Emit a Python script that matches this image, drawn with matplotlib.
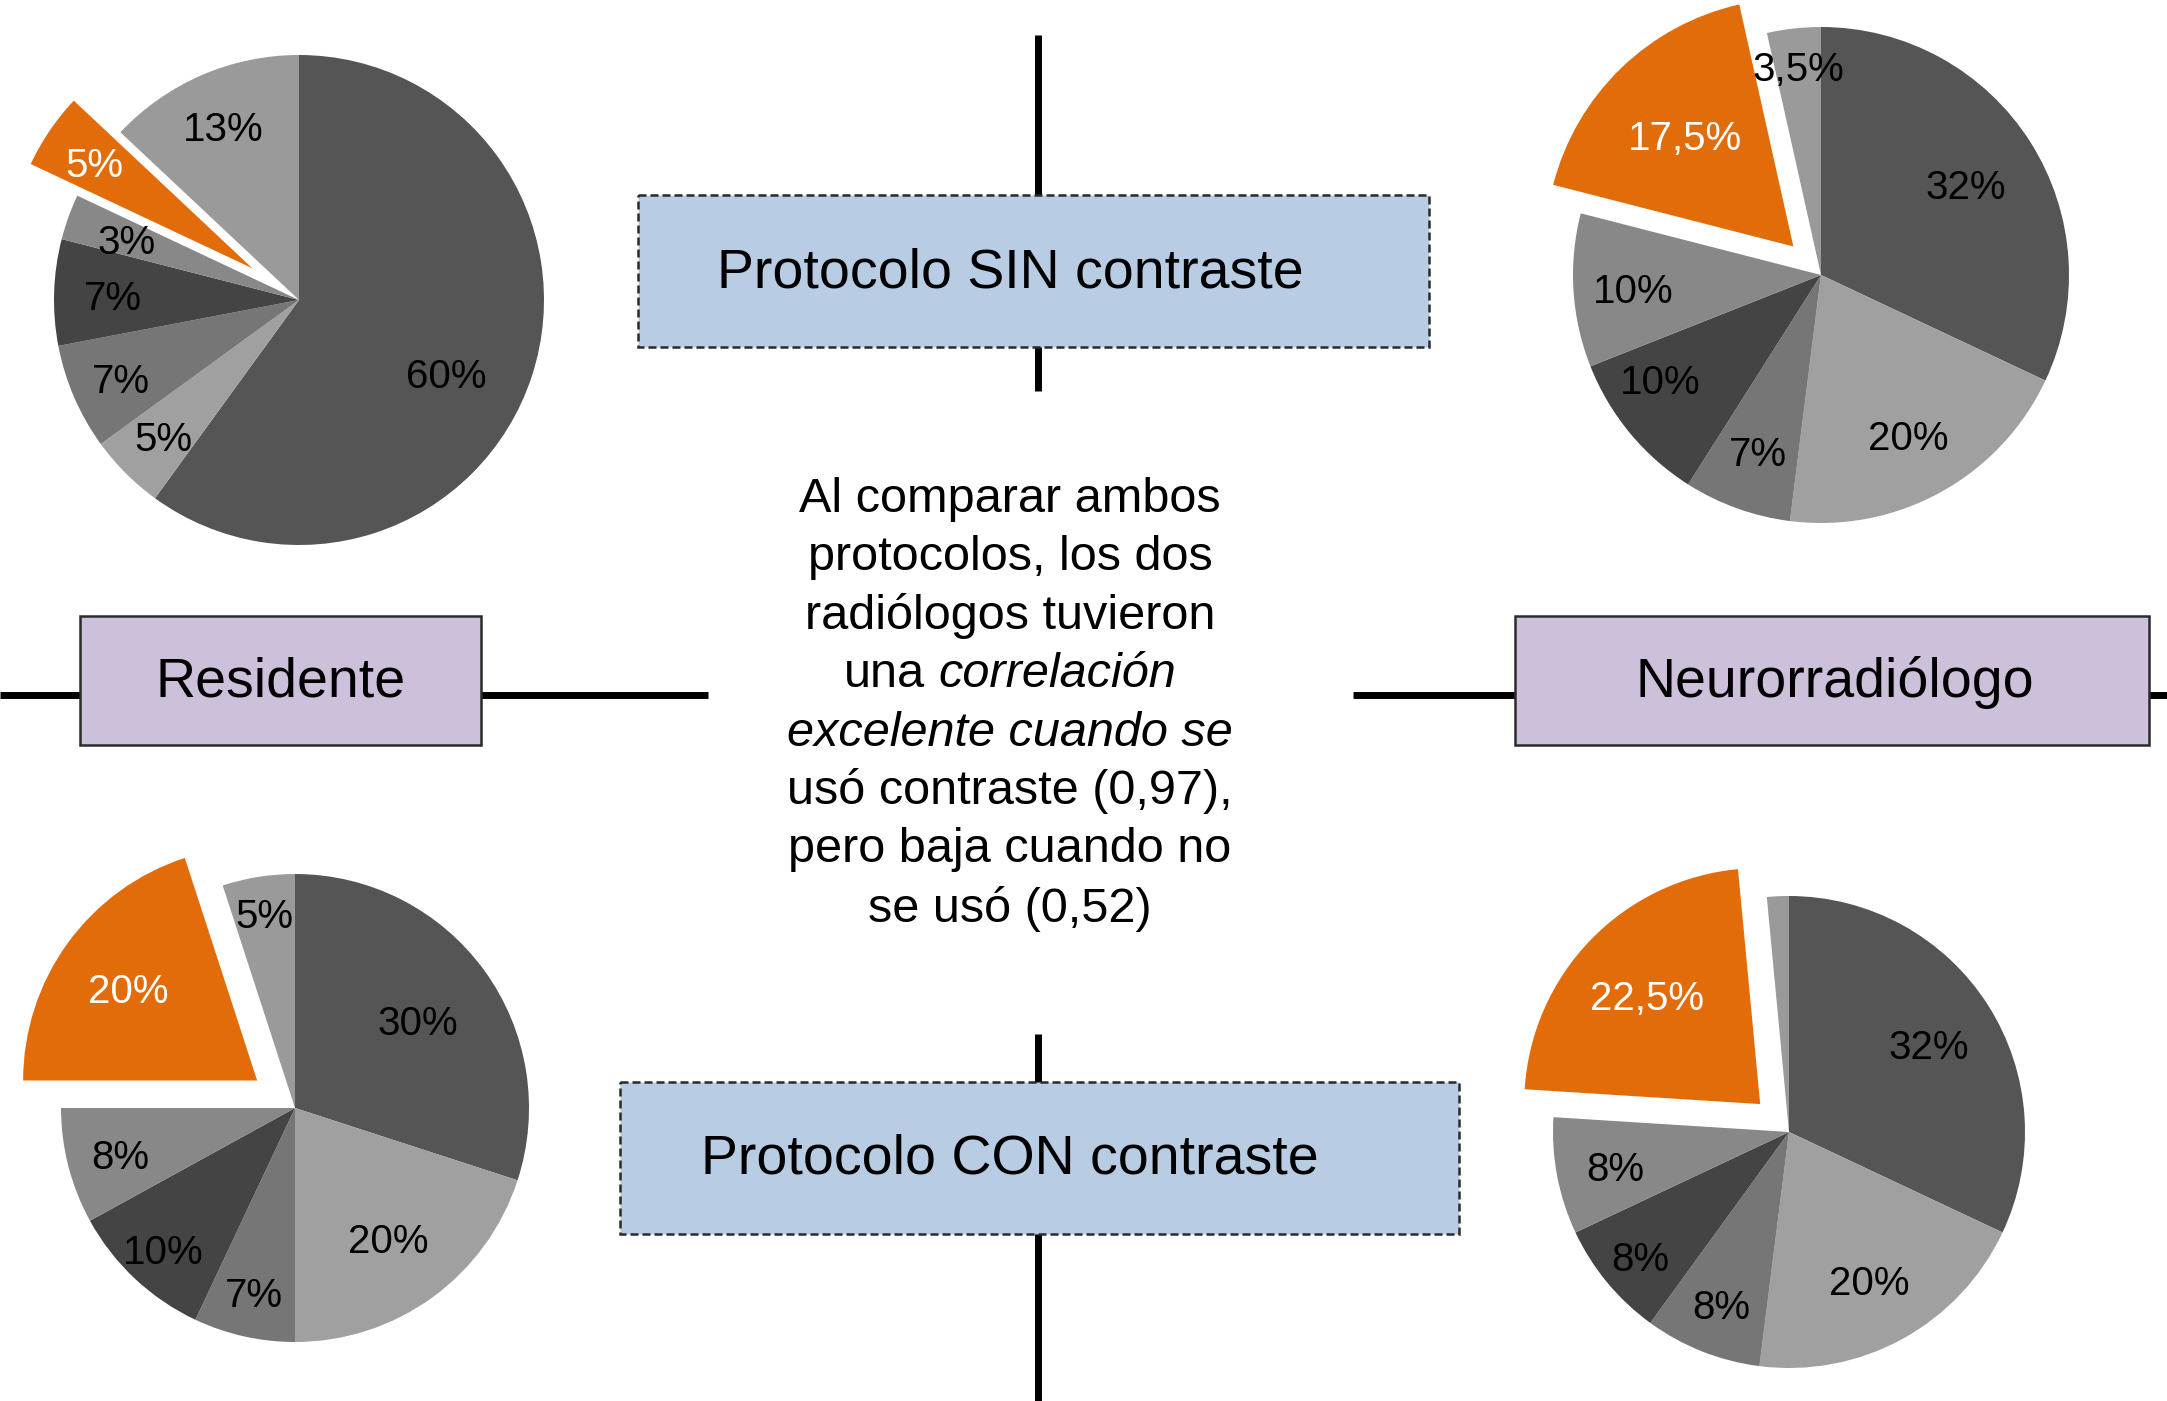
import matplotlib
matplotlib.use("Agg")
import matplotlib.pyplot as plt
from matplotlib.patches import Rectangle
from matplotlib.transforms import offset_copy
import numpy as np

W, H, DPI = 2167, 1401, 100
plt.rcParams['font.family'] = ['Liberation Sans', 'DejaVu Sans']

# ---- data (clockwise from 12 o'clock) ----
res_sin_vals = [60, 5, 7, 7, 3, 5, 13]
res_sin_labels = ['60%', '5%', '7%', '7%', '3%', '5%', '13%']
neu_sin_vals = [32, 20, 7, 10, 10, 17.5, 3.5]
neu_sin_labels = ['32%', '20%', '7%', '10%', '10%', '17,5%', '3,5%']
res_con_vals = [30, 20, 7, 10, 8, 20, 5]
res_con_labels = ['30%', '20%', '7%', '10%', '8%', '20%', '5%']
neu_con_vals = [32, 20, 8, 8, 8, 22.5, 1.5]
neu_con_labels = ['32%', '20%', '8%', '8%', '8%', '22,5%', '']

slice_colors = ['#555555', '#a0a0a0', '#767676', '#444444', '#888888', '#e36c0a', '#9a9a9a']
highlight = 5  # orange, exploded slice

fig = plt.figure(figsize=(W / DPI, H / DPI), dpi=DPI)

# background axes in pixel coordinates (y down)
bg = fig.add_axes([0, 0, 1, 1])
bg.set_xlim(0, W)
bg.set_ylim(H, 0)
bg.axis('off')

line_kw = dict(color='black', lw=5, solid_capstyle='butt', zorder=1)
# vertical connector
bg.plot([1038, 1038], [35, 391], **line_kw)
bg.plot([1038, 1038], [1034, H], **line_kw)
# horizontal connectors
bg.plot([0, 708], [695, 695], **line_kw)
bg.plot([1353, W], [695, 695], **line_kw)


def box(x0, y0, x1, y1, fc, text, tx, dashed):
    r = Rectangle((x0, y0), x1 - x0, y1 - y0, facecolor=fc, edgecolor='#2a2a2a',
                  lw=1.8, linestyle=(0, (3.2, 1.6)) if dashed else '-', zorder=2)
    bg.add_patch(r)
    bg.text(tx, (y0 + y1) / 2 + 2, text, ha='center', va='center',
            fontsize=40, color='black', zorder=3)


box(638, 195, 1429, 347, '#b8cce4', 'Protocolo SIN contraste', 1010, True)
box(620, 1082, 1459, 1234, '#b8cce4', 'Protocolo CON contraste', 1010, True)
box(80, 616, 481, 745, '#ccc0da', 'Residente', 281, False)
box(1515, 616, 2149, 745, '#ccc0da', 'Neurorradiólogo', 1835, False)

# central text, line by line (some words italic)
center_lines = [
    [("Al comparar ambos", 'normal')],
    [("protocolos, los dos", 'normal')],
    [("radiólogos tuvieron", 'normal')],
    [("una", 'normal'), ("correlación", 'italic')],
    [("excelente cuando se", 'italic')],
    [("usó contraste (0,97),", 'normal')],
    [("pero baja cuando no", 'normal')],
    [("se usó (0,52)", 'normal')],
]
renderer = fig.canvas.get_renderer()
fs_c = 35
cx_text, y_first, dy = 1010, 499, 58.5


def text_w(s, style):
    t = bg.text(0, 0, s, fontsize=fs_c, style=style)
    w = t.get_window_extent(renderer=renderer).width
    t.remove()
    return w


space_w = text_w("n n", 'normal') - text_w("nn", 'normal')
for i, parts in enumerate(center_lines):
    y = y_first + i * dy
    widths = [text_w(s, st) for s, st in parts]
    total = sum(widths) + space_w * (len(parts) - 1)
    x = cx_text - total / 2
    for (s, st), w in zip(parts, widths):
        bg.text(x, y, s, fontsize=fs_c, style=st, ha='left', va='center', color='black')
        x += w + space_w


def draw_pie(cx, cy, r, vals, labels, explode_amt, label_dist, label_rot, fs=29):
    L = 1.4
    ax = fig.add_axes([(cx - L * r) / W, (H - cy - L * r) / H,
                       2 * L * r / W, 2 * L * r / H])
    explode = [explode_amt if i == highlight else 0 for i in range(len(vals))]
    wedges, _ = ax.pie(vals, colors=slice_colors, startangle=90, counterclock=False,
                       explode=explode, radius=1, wedgeprops=dict(linewidth=0))
    ax.set_aspect('auto')
    ax.set_xlim(-L, L)
    ax.set_ylim(-L, L)
    ax.axis('off')
    # digits sit a little low in the reference
    tr = offset_copy(ax.transData, fig=fig, y=-5, units='dots')
    for i, (w, lab) in enumerate(zip(wedges, labels)):
        if not lab:
            continue
        a = np.deg2rad((w.theta1 + w.theta2) / 2 + label_rot[i])
        d = label_dist[i]
        x = w.center[0] + d * np.cos(a)
        y = w.center[1] + d * np.sin(a)
        ax.text(x, y, lab, ha='center', va='center', fontsize=fs, transform=tr,
                color='white' if i == highlight else 'black')


draw_pie(299, 300, 245, res_sin_vals, res_sin_labels, 0.23,
         [0.67, 0.78, 0.79, 0.76, 0.75, 0.78, 0.78],
         [-8, 0, 0, 0, 0, 0, 0])
draw_pie(1821, 275, 248, neu_sin_vals, neu_sin_labels, 0.16,
         [0.69, 0.73, 0.75, 0.77, 0.76, 0.63, 0.85],
         [0, 0, 0, -7, 0, 0, 0])
draw_pie(295, 1108, 234, res_con_vals, res_con_labels, 0.2,
         [0.65, 0.68, 0.80, 0.82, 0.77, 0.68, 0.85],
         [0, 0, 0, 0, 0, 0, 0])
draw_pie(1789, 1132, 236, neu_con_vals, neu_con_labels, 0.17,
         [0.70, 0.71, 0.78, 0.82, 0.75, 0.67, 0.85],
         [0, 0, 0, 0, 0, 0, 0])

fig.savefig('out.png', dpi=DPI)
